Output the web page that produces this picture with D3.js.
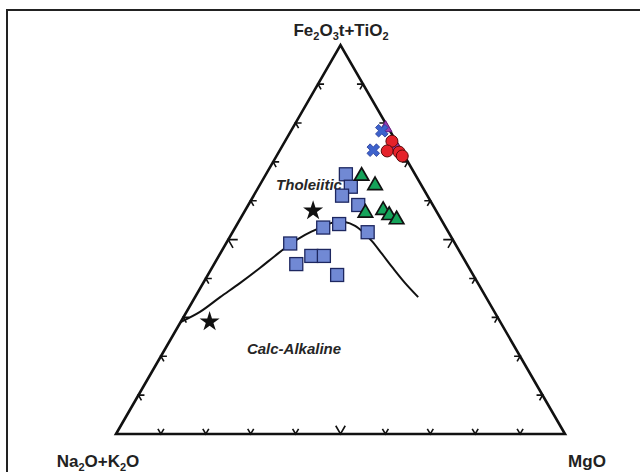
<!DOCTYPE html>
<html><head><meta charset="utf-8">
<script src="https://cdn.jsdelivr.net/npm/d3@7"></script>
<style>body{margin:0;background:#fff}svg{display:block}</style>
</head><body><svg id="c" width="640" height="472"></svg>
<script>
// ternary data: [Na2O+K2O, Fe2O3t+TiO2, MgO]
const vertexLabels = ["Na2O+K2O", "Fe2O3t+TiO2", "MgO"];
const fieldLabels = ["Tholeiitic", "Calc-Alkaline"];
const boundary = [[71.2,28.8,0],[65.6,31.4,3.0],[59.2,35.2,5.6],[53.0,38.8,8.2],[46.6,42.7,10.7],[41.7,45.8,12.5],[36.8,48.8,14.4],[32.3,51.2,16.5],[28.1,53.0,18.9],[24.0,54.5,21.5],[21.75,54.5,23.75],[20.0,53.5,26.5],[19.0,51.9,29.1],[18.2,49.6,32.2],[17.6,46.3,36.1],[17.0,42.7,40.3],[16.2,38.8,45.0],[15.1,35.2,49.7]];
const squares = [[15.4,66.8,17.8],[15.9,63.6,20.5],[19.0,61.3,19.7],[16.6,58.9,24.5],[27.3,53.1,19.6],[23.3,54.0,22.7],[18.0,51.9,30.1],[36.7,49.0,14.3],[38.0,43.7,18.3],[33.6,45.8,20.6],[30.8,45.8,23.4],[30.3,40.9,28.8]];
const triangles = [[12.0,66.6,21.4],[10.2,64.2,25.6],[15.9,57.1,27.0],[11.6,57.8,30.6],[10.9,56.5,32.6],[9.8,55.4,34.8]];
const stars = [[27.4,57.4,15.2],[64.7,28.9,6.4]];
const purples = [[0.6,78.7,20.7],[0.8,74.0,25.2]];
const crosses = [[1.8,78.0,20.2],[6.2,73.0,20.8]];
const circles = [[0.9,75.3,23.8],[3.2,72.8,24.0],[0.7,72.5,26.8],[0.5,71.5,28.0]];
const tickFractions = [0.1,0.2,0.3,0.4,0.5,0.6,0.7,0.8,0.9];

const svg = d3.select("#c");
const xs = d3.scaleLinear().domain([0,1]).range([116,565]);
const ys = d3.scaleLinear().domain([0,1]).range([434,45.2]);
function proj(d){const s=d[0]+d[1]+d[2];const f=d[1]/s,m=d[2]/s;return [xs(m+f/2), ys(f)];}

// frame
svg.append("rect").attr("x",7).attr("y",10).attr("width",660).attr("height",500)
  .attr("fill","none").attr("stroke","#222").attr("stroke-width",2);

const A=proj([100,0,0]), F=proj([0,100,0]), M=proj([0,0,100]);
const g = svg.append("g");

// ticks
const edges = [[A,M],[A,F],[M,F]];
const cen = [(A[0]+F[0]+M[0])/3,(A[1]+F[1]+M[1])/3];
edges.forEach(([P0,P1])=>{
  tickFractions.forEach(t=>{
    const px=P0[0]+t*(P1[0]-P0[0]), py=P0[1]+t*(P1[1]-P0[1]);
    let dx=P1[0]-P0[0], dy=P1[1]-P0[1]; const L=Math.hypot(dx,dy); dx/=L; dy/=L;
    let nx=-dy, ny=dx; if((cen[0]-px)*nx+(cen[1]-py)*ny<0){nx=-nx;ny=-ny;}
    const len = t===0.5?9.5:6, ang=Math.PI/6;
    const r=(a)=>[nx*Math.cos(a)-ny*Math.sin(a), nx*Math.sin(a)+ny*Math.cos(a)];
    const a1=r(ang), a2=r(-ang);
    g.append("path").attr("d",`M${px+a1[0]*len},${py+a1[1]*len}L${px},${py}L${px+a2[0]*len},${py+a2[1]*len}`)
      .attr("fill","none").attr("stroke","#111").attr("stroke-width",1.6);
  });
});

// triangle
g.append("path").attr("d",`M${A}L${F}L${M}Z`).attr("fill","none").attr("stroke","#111")
  .attr("stroke-width",2.6).attr("stroke-linejoin","miter");

// boundary curve
g.append("path").datum(boundary).attr("d",d3.line().x(d=>proj(d)[0]).y(d=>proj(d)[1]).curve(d3.curveCatmullRom))
  .attr("fill","none").attr("stroke","#111").attr("stroke-width",2);

// field labels
g.append("text").attr("x",309).attr("y",190).attr("text-anchor","middle")
  .attr("font-family","Liberation Sans, Arial, sans-serif").attr("font-weight","bold").attr("font-style","italic")
  .attr("font-size",15).attr("fill","#262626").text(fieldLabels[0]);
g.append("text").attr("x",294).attr("y",354).attr("text-anchor","middle")
  .attr("font-family","Liberation Sans, Arial, sans-serif").attr("font-weight","bold").attr("font-style","italic")
  .attr("font-size",15).attr("fill","#262626").text(fieldLabels[1]);

// markers
g.selectAll(".sq").data(squares).join("rect").attr("x",d=>proj(d)[0]-6.5).attr("y",d=>proj(d)[1]-6.5)
  .attr("width",13).attr("height",13).attr("fill","#7189d4").attr("stroke","#1d2760").attr("stroke-width",1.3);
const tri=d3.symbol().type(d3.symbolTriangle).size(90);
g.selectAll(".tr").data(triangles).join("path").attr("d",tri)
  .attr("transform",d=>`translate(${proj(d)[0]},${proj(d)[1]+1})`).attr("fill","#15a35a").attr("stroke","#111").attr("stroke-width",1.7);
const star=d3.symbol().type(d3.symbolStar).size(125);
g.selectAll(".st").data(stars).join("path").attr("d",star)
  .attr("transform",d=>`translate(${proj(d)[0]},${proj(d)[1]})`).attr("fill","#111");
g.selectAll(".pu").data(purples).join("path").attr("d",d3.symbol().type(d3.symbolTriangle).size(70))
  .attr("transform",d=>`translate(${proj(d)[0]},${proj(d)[1]})`).attr("fill","#9a3fb0").attr("stroke","#6a1a80").attr("stroke-width",1);
const cross=d3.symbol().type(d3.symbolCross).size(100);
g.selectAll(".cr").data(crosses).join("path").attr("d",cross)
  .attr("transform",d=>`translate(${proj(d)[0]},${proj(d)[1]}) rotate(45)`).attr("fill","#3d62cc").attr("stroke","#2a3f9a").attr("stroke-width",0.8);
g.selectAll(".ci").data(circles).join("circle").attr("cx",d=>proj(d)[0]).attr("cy",d=>proj(d)[1]).attr("r",6)
  .attr("fill","#e5222a").attr("stroke","#5a0a0a").attr("stroke-width",1);

// vertex labels with subscripts
function label(x,y,parts){
  const t=svg.append("text").attr("x",x).attr("y",y).attr("text-anchor","middle")
    .attr("font-family","Liberation Sans, Arial, sans-serif").attr("font-weight","bold").attr("font-size",17).attr("fill","#222");
  parts.forEach(p=>{
    if(p.sub){t.append("tspan").attr("font-size",11).attr("dy",4).text(p.s);}
    else{t.append("tspan").attr("dy",p.after?-4:0).text(p.s);}
  });
}
label(341,36,[{s:"Fe"},{s:"2",sub:1},{s:"O",after:1},{s:"3",sub:1},{s:"t+TiO",after:1},{s:"2",sub:1}]);
label(98,467,[{s:"Na"},{s:"2",sub:1},{s:"O+K",after:1},{s:"2",sub:1},{s:"O",after:1}]);
label(587,467,[{s:"MgO"}]);
</script></body></html>
